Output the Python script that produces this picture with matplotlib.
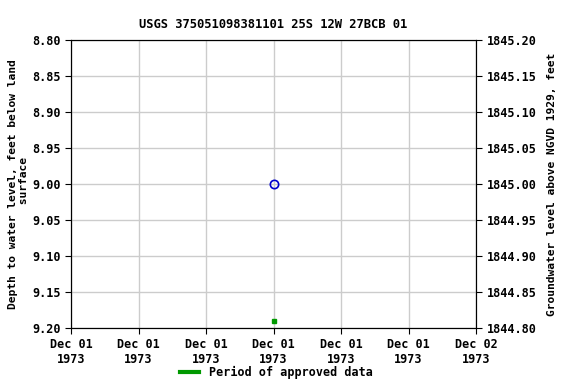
import matplotlib
matplotlib.use("Agg")
import matplotlib.pyplot as plt
from matplotlib.lines import Line2D
from datetime import datetime, timedelta

# Data
obs_time = [datetime(1973, 12, 1, 12, 0)]
depth = [9.00]
approved_time = [datetime(1973, 12, 1, 12, 0)]
approved_depth = [9.19]
x_start = datetime(1973, 12, 1, 0, 0)
x_end = datetime(1973, 12, 2, 0, 0)
tick_labels = ["Dec 01\n1973"] * 6 + ["Dec 02\n1973"]
left_ticks = [8.80, 8.85, 8.90, 8.95, 9.00, 9.05, 9.10, 9.15, 9.20]
right_ticks = [1844.80, 1844.85, 1844.90, 1844.95, 1845.00, 1845.05, 1845.10, 1845.15, 1845.20]

plt.rcParams['font.family'] = ['DejaVu Sans Mono']
plt.rcParams['font.weight'] = 'bold'
FS = 8.5
LFS = 8.1

fig = plt.figure(figsize=(5.76, 3.84), dpi=100)
ax = fig.add_axes([71/576, 1 - 328/384, (476-71)/576, (328-40)/384])

ax.plot(obs_time, depth, linestyle='none', marker='o', markersize=6,
        markerfacecolor='none', markeredgecolor='#0000cc', markeredgewidth=1.2)
ax.plot(approved_time, approved_depth, linestyle='none', marker='s', markersize=3,
        color='#009900')

ax.set_xlim(x_start, x_end)
ax.set_ylim(9.20, 8.80)
ticks = [x_start + timedelta(hours=4 * i) for i in range(7)]
ax.set_xticks(ticks)
ax.set_xticklabels(tick_labels, fontsize=FS, fontweight='bold')
ax.set_yticks(left_ticks)
ax.set_yticklabels([f"{v:.2f}" for v in left_ticks], fontsize=FS, fontweight='bold')
ax.grid(True, color='#cccccc', linewidth=1)
ax.set_axisbelow(True)
ax.tick_params(direction='out', length=4)

ax.set_ylabel("Depth to water level, feet below land\n surface", fontsize=LFS, fontweight='bold')
ax.yaxis.set_label_coords(-0.103, 0.5)
ax.set_title("USGS 375051098381101 25S 12W 27BCB 01", fontsize=8.7, fontweight='bold', pad=9)

ax2 = ax.twinx()
ax2.set_ylim(1844.80, 1845.20)
ax2.set_yticks(right_ticks)
ax2.set_yticklabels([f"{v:.2f}" for v in right_ticks], fontsize=FS, fontweight='bold')
ax2.set_ylabel("Groundwater level above NGVD 1929, feet", fontsize=LFS, fontweight='bold', labelpad=8)
ax2.tick_params(direction='out', length=4)

handle = Line2D([0], [0], color='#009900', linewidth=3)
fig.legend([handle], ["Period of approved data"], loc='lower center',
           bbox_to_anchor=(0.48, -0.015), frameon=False, handlelength=1.6,
           prop={'weight': 'bold', 'size': FS})

fig.savefig("out.png", dpi=100)
